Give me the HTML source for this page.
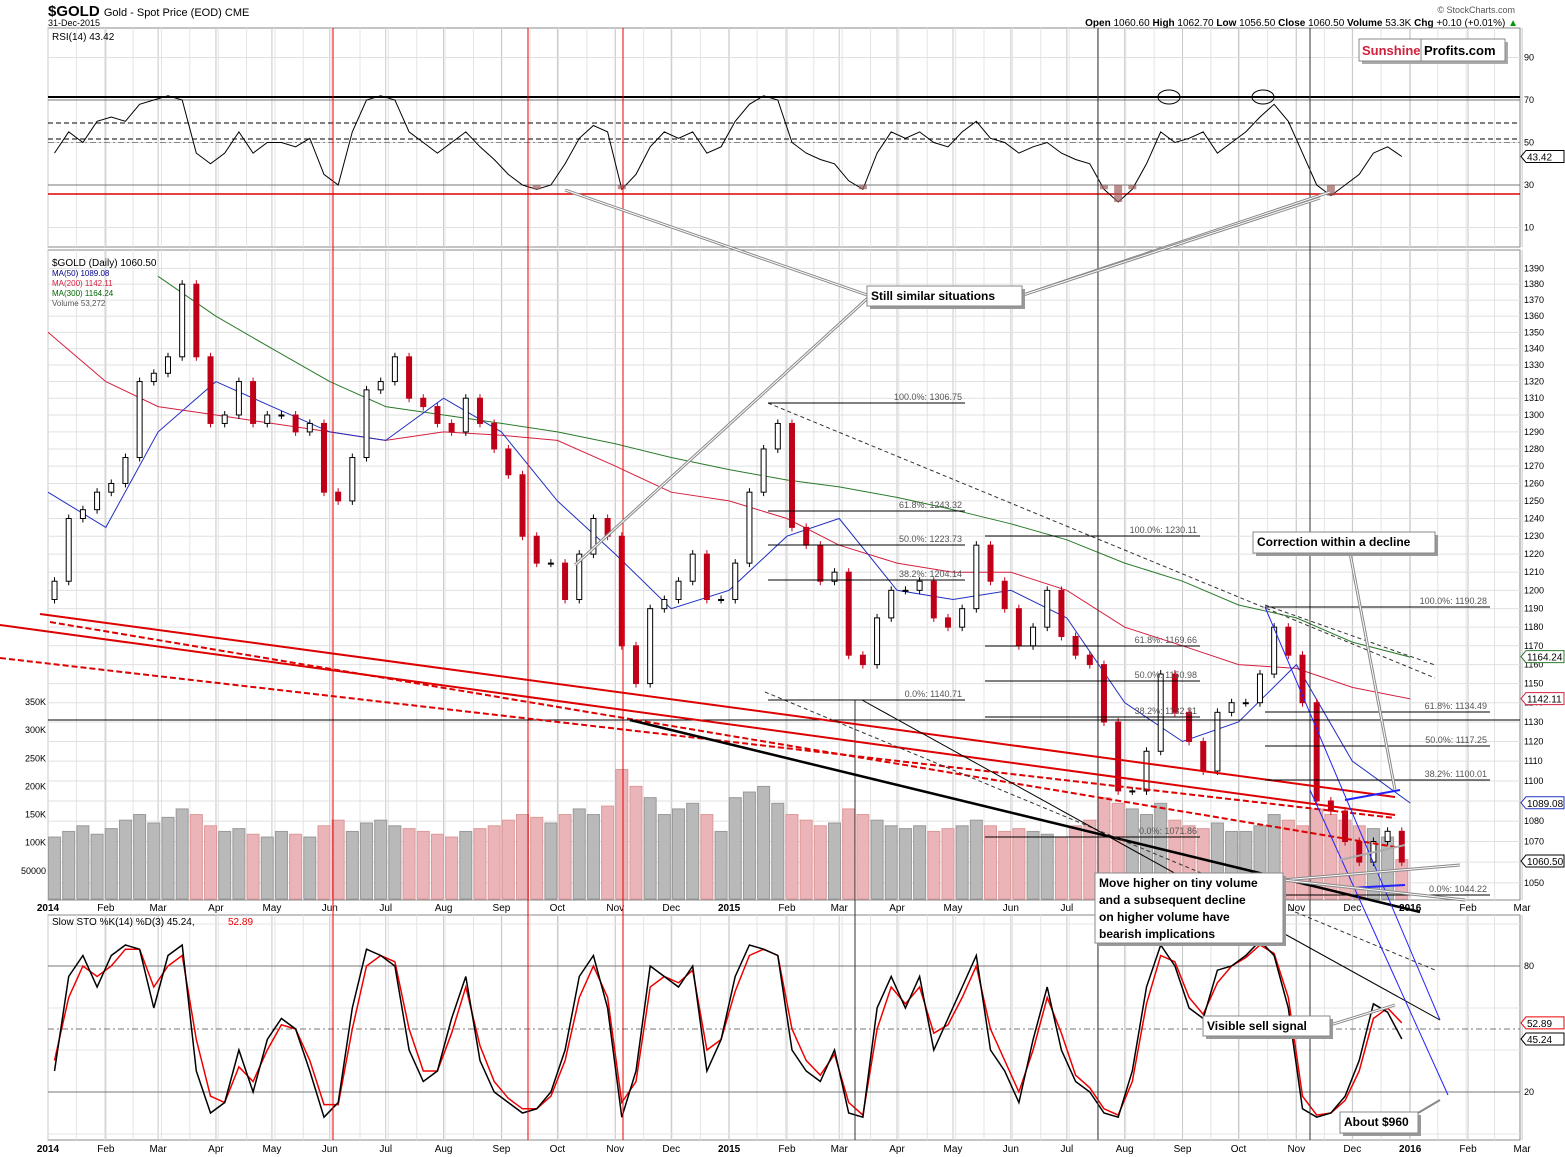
<!DOCTYPE html>
<html><head><meta charset="utf-8">
<style>
body{margin:0;background:#fff;font-family:"Liberation Sans",sans-serif;}
svg{display:block}
text{font-family:"Liberation Sans",sans-serif;}
</style></head>
<body>
<svg id="chart" width="1565" height="1157" viewBox="0 0 1565 1157" xmlns="http://www.w3.org/2000/svg">
<rect x="0" y="0" width="1565" height="1157" fill="#fff"/>
<text x="48" y="16" font-size="15" font-weight="bold">$GOLD <tspan font-size="11" font-weight="normal">Gold - Spot Price (EOD)  CME</tspan></text>
<text x="48" y="26" font-size="9">31-Dec-2015</text>
<text x="1515" y="13" font-size="9" fill="#555" text-anchor="end">© StockCharts.com</text>
<text x="1518" y="26" font-size="10" text-anchor="end"><tspan font-weight="bold">Open</tspan> 1060.60 <tspan font-weight="bold">High</tspan> 1062.70 <tspan font-weight="bold">Low</tspan> 1056.50 <tspan font-weight="bold">Close</tspan> 1060.50 <tspan font-weight="bold">Volume</tspan> 53.3K <tspan font-weight="bold">Chg</tspan> +0.10 (+0.01%) <tspan fill="#090">▲</tspan></text>
<g id="grid"></g>
<g id="vol"></g>
<g id="marks"></g>
<g id="ann"></g>
</svg>
<script>
const months=['2014','Feb','Mar','Apr','May','Jun','Jul','Aug','Sep','Oct','Nov','Dec','2015','Feb','Mar','Apr','May','Jun','Jul','Aug','Sep','Oct','Nov','Dec','2016','Feb','Mar'];
const monthDays=[0,31,59,90,120,151,181,212,243,273,304,334,365,396,424,455,485,516,546,577,608,638,669,699,730,761,790];
const closes=[1205,1240,1245,1255,1260,1275,1320,1325,1335,1380,1335,1295,1300,1320,1295,1300,1300,1290,1295,1255,1250,1275,1315,1320,1335,1310,1305,1295,1290,1310,1295,1280,1265,1230,1215,1215,1195,1220,1240,1230,1170,1150,1190,1195,1205,1220,1195,1195,1215,1255,1280,1295,1235,1225,1205,1210,1165,1160,1185,1200,1200,1205,1185,1180,1190,1225,1205,1190,1170,1180,1200,1175,1165,1160,1130,1095,1095,1115,1155,1135,1120,1105,1135,1140,1140,1155,1180,1165,1140,1090,1085,1070,1060,1070,1075,1060];
const volumes=[110,120,130,115,125,140,150,135,145,160,150,130,120,125,115,110,120,115,110,130,140,120,135,140,130,125,120,115,110,120,125,130,140,150,145,135,150,160,150,165,230,200,180,150,160,170,150,120,180,190,200,170,150,140,130,135,160,150,140,130,125,130,120,125,130,140,130,120,125,120,115,110,130,140,180,170,160,150,170,140,130,125,135,120,120,130,150,140,130,160,150,140,130,125,110,70];
const rsi=[45,55,50,60,62,60,68,70,72,70,45,40,45,55,45,50,50,48,52,35,30,55,70,72,70,55,50,45,50,55,48,42,35,30,28,30,40,52,58,55,28,35,48,55,52,55,45,48,60,68,72,70,50,45,42,40,32,28,45,55,52,55,50,48,55,60,52,50,45,48,50,45,42,40,28,22,28,40,55,50,52,55,45,50,55,62,68,60,45,30,25,30,35,45,48,43.42];
const stochK=[30,75,85,70,85,90,88,60,85,90,30,10,15,40,20,45,55,50,30,8,15,60,88,85,80,40,25,30,55,75,35,20,15,10,12,20,40,75,85,60,8,30,80,75,70,80,30,45,75,90,88,85,40,30,25,40,10,8,60,75,60,75,40,55,70,85,40,30,15,45,70,40,25,20,10,8,30,70,90,80,60,55,78,80,85,92,85,60,12,8,10,18,35,62,58,45.24];
const stochD=[35,65,80,75,80,88,88,70,80,85,45,18,15,32,25,40,52,50,35,14,14,50,80,85,82,50,30,30,48,70,42,25,17,12,12,18,35,65,80,65,15,25,70,75,72,78,40,45,68,85,88,85,50,35,28,38,15,9,50,70,62,70,48,52,65,80,50,35,20,40,65,48,28,22,12,9,25,62,85,82,65,57,72,80,84,90,86,65,18,9,10,16,30,55,60,52.89];
const maMonths=[0,31,59,90,120,151,181,212,243,273,304,334,365,396,424,455,485,516,546,577,608,638,669,699,730];
const ma50=[1255,1235,1290,1320,1305,1290,1285,1310,1290,1250,1220,1190,1200,1230,1240,1200,1195,1200,1185,1140,1120,1130,1160,1110,1089];
const ma200=[1350,1320,1305,1300,1295,1290,1285,1290,1288,1285,1270,1255,1250,1240,1225,1215,1210,1210,1200,1180,1170,1160,1158,1148,1142];
const ma300=[null,null,1385,1360,1340,1320,1305,1300,1295,1290,1283,1275,1268,1262,1258,1252,1245,1237,1228,1215,1205,1192,1185,1172,1164];
const priceTicks=[1390,1380,1370,1360,1350,1340,1330,1320,1310,1300,1290,1280,1270,1260,1250,1240,1230,1220,1210,1200,1190,1180,1170,1160,1150,1140,1130,1120,1110,1100,1090,1080,1070,1060,1050];
const volTicks=[50,100,150,200,250,300,350];
const rsiTicks=[90,70,50,30,10];
const stoTicks=[80,20];

const NS='http://www.w3.org/2000/svg';
function mk(p,tag,at,txt){const e=document.createElementNS(NS,tag);for(const k in at)e.setAttribute(k,at[k]);if(txt!==undefined)e.textContent=txt;p.appendChild(e);return e;}
const X0=48,KX=1.866,R=1520;
const xd=d=>X0+d*KX;
const xi=i=>xd(3.5+i*7.6);
const yp=p=>722-5044*Math.log10(p/1130);
const yv=v=>899-v*0.563;
const yr=v=>100+(70-v)*2.125;
const ys=v=>966+(80-v)*2.1;
const G=document.getElementById('grid'),V=document.getElementById('vol'),M=document.getElementById('marks'),A=document.getElementById('ann');

[[28,247],[250,900],[915,1140]].forEach(([a,b],k)=>{
 const r=mk(G,'rect',{x:X0,y:a,width:R-X0,height:b-a,fill:'none',stroke:'#888'});
 
 
});
for(let d=0;d<=790;d+=7.6*2){
 const x=xd(d);
 [[28,247],[250,900],[915,1140]].forEach(([a,b])=>mk(G,'line',{x1:x,y1:a,x2:x,y2:b,stroke:'#e4e4e4'}));
}
monthDays.forEach((d,i)=>{
 const x=xd(d);
 [[28,247],[250,900],[915,1140]].forEach(([a,b])=>mk(G,'line',{x1:x,y1:a,x2:x,y2:b,stroke:'#c8c8c8'}));
 const bold=/^\d/.test(months[i]);
 [911,1152].forEach(yy=>{const t=mk(G,'text',{x:x,y:yy,'font-size':10,'text-anchor':'middle','font-weight':bold?'bold':'normal'},months[i]);
 
 });
});
priceTicks.forEach(p=>{const y=yp(p);mk(G,'line',{x1:X0,y1:y,x2:R,y2:y,stroke:'#e0e0e0'});
 const t=mk(G,'text',{x:1524,y:y+3,'font-size':9},p);
 
 });
volTicks.forEach(v=>{const t=mk(G,'text',{x:46,y:yv(v)+3,'font-size':9,'text-anchor':'end'},v===50?'50000':v+'K');
 
 });
[10,30,50,70,90].forEach(v=>mk(G,'line',{x1:X0,y1:yr(v),x2:R,y2:yr(v),stroke:'#e0e0e0'}));
rsiTicks.forEach(v=>{const t=mk(G,'text',{x:1524,y:yr(v)+3,'font-size':9},v);
 
 });
[0,20,40,60,80,100].forEach(v=>mk(G,'line',{x1:X0,y1:ys(v),x2:R,y2:ys(v),stroke:'#e4e4e4'}));
stoTicks.forEach(v=>{mk(G,'line',{x1:X0,y1:ys(v),x2:R,y2:ys(v),stroke:'#777'});
 const t=mk(G,'text',{x:1524,y:ys(v)+3,'font-size':9},v);
 
 });
mk(G,'line',{x1:X0,y1:ys(50),x2:R,y2:ys(50),stroke:'#777','stroke-dasharray':'6,3,2,3'});
mk(G,'line',{x1:X0,y1:97,x2:R,y2:97,stroke:'#000','stroke-width':2});
mk(G,'line',{x1:X0,y1:yr(70),x2:R,y2:yr(70),stroke:'#777'});
mk(G,'line',{x1:X0,y1:123,x2:R,y2:123,stroke:'#000','stroke-dasharray':'5,3'});
mk(G,'line',{x1:X0,y1:139,x2:R,y2:139,stroke:'#000','stroke-dasharray':'5,3'});
mk(G,'line',{x1:X0,y1:yr(50),x2:R,y2:yr(50),stroke:'#888','stroke-dasharray':'6,3,2,3'});
mk(G,'line',{x1:X0,y1:yr(30),x2:R,y2:yr(30),stroke:'#777'});
mk(G,'line',{x1:X0,y1:194,x2:R,y2:194,stroke:'#d00','stroke-width':1.5});

volumes.forEach((v,i)=>{const up=i===0||closes[i]>=closes[i-1];
 const b=mk(V,'rect',{x:xi(i)-6,y:yv(v),width:12,height:899-yv(v),fill:up?'#b9b9b9':'#eab4b8',stroke:up?'#999':'#d99'});
 
 });

function maLine(arr,col,name){let d='';arr.forEach((v,i)=>{if(v==null)return;d+=(d?'L':'M')+xd(maMonths[i]).toFixed(1)+','+yp(v).toFixed(1);});
 const p=mk(M,'path',{d:d,fill:'none',stroke:col,'stroke-width':1});
 
 }
maLine(ma300,'#2a7a2a','ma300-line');maLine(ma200,'#d42040','ma200-line');maLine(ma50,'#2030c0','ma50-line');

closes.forEach((c,i)=>{const o=i?closes[i-1]:c-10;const up=c>=o;const x=xi(i);
 const hi=Math.max(o,c),lo=Math.min(o,c);
 mk(M,'line',{x1:x,y1:yp(hi)-4,x2:x,y2:yp(lo)+4,stroke:up?'#000':'#c00018'});
 const b=mk(M,'rect',{x:x-2.5,y:yp(hi),width:5,height:Math.max(1,yp(lo)-yp(hi)),fill:up?'#fff':'#c00018',stroke:up?'#000':'#c00018'});
 
 });

let rd='';rsi.forEach((v,i)=>rd+=(i?'L':'M')+xi(i).toFixed(1)+','+yr(v).toFixed(1));
const rl=mk(M,'path',{d:rd,fill:'none',stroke:'#000','stroke-width':1});


rsi.forEach((v,i)=>{if(v<30){const c=mk(M,'rect',{x:xi(i)-4,y:yr(30),width:8,height:yr(v)-yr(30),fill:'#a06060',opacity:0.7});
 
 }});
function sl(arr,col,name){let d='';arr.forEach((v,i)=>d+=(i?'L':'M')+xi(i).toFixed(1)+','+ys(v).toFixed(1));
 const p=mk(M,'path',{d:d,fill:'none',stroke:col,'stroke-width':1.5});
 
 }
sl(stochD,'#e00','stoch-d-line');sl(stochK,'#000','stoch-k-line');

function tag(y,t,col,name){const g=mk(A,'g',{});
 
 
 mk(g,'path',{d:`M1521,${y} l5,-6 h38 v12 h-38 z`,fill:'#fff',stroke:col});
 mk(g,'text',{x:1527,y:y+4,'font-size':10,fill:'#000'},t);}
tag(yp(1164.24),'1164.24','#2a7a2a','ma300-tag');tag(yp(1142.11),'1142.11','#d42040','ma200-tag');
tag(yp(1089.08),'1089.08','#2030c0','ma50-tag');tag(yp(1060.5),'1060.50','#000','close-tag');
tag(yr(43.42),'43.42','#000','rsi-tag');tag(ys(52.89),'52.89','#e00','stoch-d-tag');tag(ys(45.24),'45.24','#000','stoch-k-tag');

mk(A,'text',{x:52,y:40,'font-size':10},'RSI(14) 43.42');
mk(A,'text',{x:52,y:266,'font-size':10},'$GOLD (Daily) 1060.50');
mk(A,'text',{x:52,y:276,'font-size':8,fill:'#00008b'},'MA(50) 1089.08');
mk(A,'text',{x:52,y:286,'font-size':8,fill:'#d42040'},'MA(200) 1142.11');
mk(A,'text',{x:52,y:296,'font-size':8,fill:'#006400'},'MA(300) 1164.24');
mk(A,'text',{x:52,y:306,'font-size':8,fill:'#555'},'Volume 53,272');
mk(A,'text',{x:52,y:925,'font-size':10},'Slow STO %K(14) %D(3) 45.24, ');
mk(A,'text',{x:228,y:925,'font-size':10,fill:'#e00'},'52.89');

[333,528,623].forEach(x=>mk(A,'line',{x1:x,y1:28,x2:x,y2:1140,stroke:'#e00'}));
[1098,1310].forEach(x=>mk(A,'line',{x1:x,y1:28,x2:x,y2:1140,stroke:'#333'}));
mk(A,'line',{x1:855,y1:700,x2:855,y2:1140,stroke:'#333'});
mk(A,'line',{x1:X0,y1:720,x2:R,y2:720,stroke:'#000'});
const L=(a,b,c,d,s,w,da)=>mk(A,'line',{x1:a,y1:b,x2:c,y2:d,stroke:s,'stroke-width':w||1,'stroke-dasharray':da||'none'});
L(40,614,1395,797,'#d00',2);L(0,625,1395,815,'#d00',2);
L(0,658,1395,818,'#d00',2,'6,3');L(50,622,1395,847,'#d00',2,'6,3');
L(630,720,1420,912,'#000',2.5);
L(768,403,1435,678,'#333',1,'4,3');L(765,692,1435,970,'#333',1,'4,3');
L(862,700,1440,1020,'#000',1);L(1265,605,1435,665,'#333',1,'4,3');
L(1265,607,1440,1020,'#22f',1);L(1310,790,1448,1095,'#22f',1);
L(1345,800,1400,790,'#22f',2);L(1350,888,1405,885,'#22f',2);
L(1340,860,1405,845,'#aaa',2);
const fib=[[768,965,403,'100.0%: 1306.75'],[768,965,511,'61.8%: 1243.32'],[768,965,545,'50.0%: 1223.73'],[768,965,580,'38.2%: 1204.14'],[768,965,700,'0.0%: 1140.71'],
[985,1200,536,'100.0%: 1230.11'],[985,1200,646,'61.8%: 1169.66'],[985,1200,681,'50.0%: 1150.98'],[985,1200,717,'38.2%: 1132.31'],[985,1200,837,'0.0%: 1071.86'],
[1265,1490,607,'100.0%: 1190.28'],[1265,1490,712,'61.8%: 1134.49'],[1265,1490,746,'50.0%: 1117.25'],[1265,1490,780,'38.2%: 1100.01'],[1265,1490,895,'0.0%: 1044.22']];
fib.forEach(f=>{L(f[0],f[2],f[1],f[2],'#000',1);mk(A,'text',{x:f[1]-3,y:f[2]-3,'font-size':9,fill:'#555','text-anchor':'end'},f[3]);});
mk(A,'ellipse',{cx:1169,cy:97,rx:11,ry:7,fill:'none',stroke:'#000'});
mk(A,'ellipse',{cx:1263,cy:97,rx:11,ry:7,fill:'none',stroke:'#000'});
[[870,296,565,190],[870,296,575,565],[1020,296,1330,192],[1020,296,1320,198]].forEach(p=>{L(p[0],p[1],p[2],p[3],'#888',3);L(p[0],p[1],p[2],p[3],'#fff',1);});
[[1350,553,1395,790],[1283,880,1460,865],[1283,880,1465,900],[1330,1025,1395,1005]].forEach(p=>{L(p[0],p[1],p[2],p[3],'#888',3);L(p[0],p[1],p[2],p[3],'#fff',1);});
function box(x,y,w,h,lines,name){const g=mk(A,'g',{});
 
 
 mk(g,'rect',{x:x+3,y:y+3,width:w,height:h,fill:'#999'});
 mk(g,'rect',{x:x,y:y,width:w,height:h,fill:'#fff',stroke:'#888'});
 lines.forEach((t,i)=>mk(g,'text',{x:x+4,y:y+14+i*17,'font-size':12,'font-weight':'bold'},t));}
box(867,286,155,20,['Still similar situations'],'callout-similar-situations');
box(1253,532,182,21,['Correction within a decline'],'callout-correction');
box(1095,873,188,70,['Move higher on tiny volume','and a subsequent decline','on higher volume have','bearish implications'],'callout-volume');
box(1203,1016,127,20,['Visible sell signal'],'callout-sell-signal');
box(1340,1112,78,21,['About $960'],'callout-960');
L(1418,1113,1440,1100,'#888',2);
const lg=mk(A,'g',{});


mk(lg,'rect',{x:1362,y:42,width:146,height:22,fill:'#aaa'});
mk(lg,'rect',{x:1359,y:39,width:146,height:22,fill:'#fff',stroke:'#888'});
mk(lg,'line',{x1:1421,y1:39,x2:1421,y2:61,stroke:'#888'});
mk(lg,'text',{x:1362,y:55,'font-size':13,'font-weight':'bold',fill:'#d0203a'},'Sunshine');
mk(lg,'text',{x:1424,y:55,'font-size':13,'font-weight':'bold'},'Profits.com');
</script>
</body></html>
